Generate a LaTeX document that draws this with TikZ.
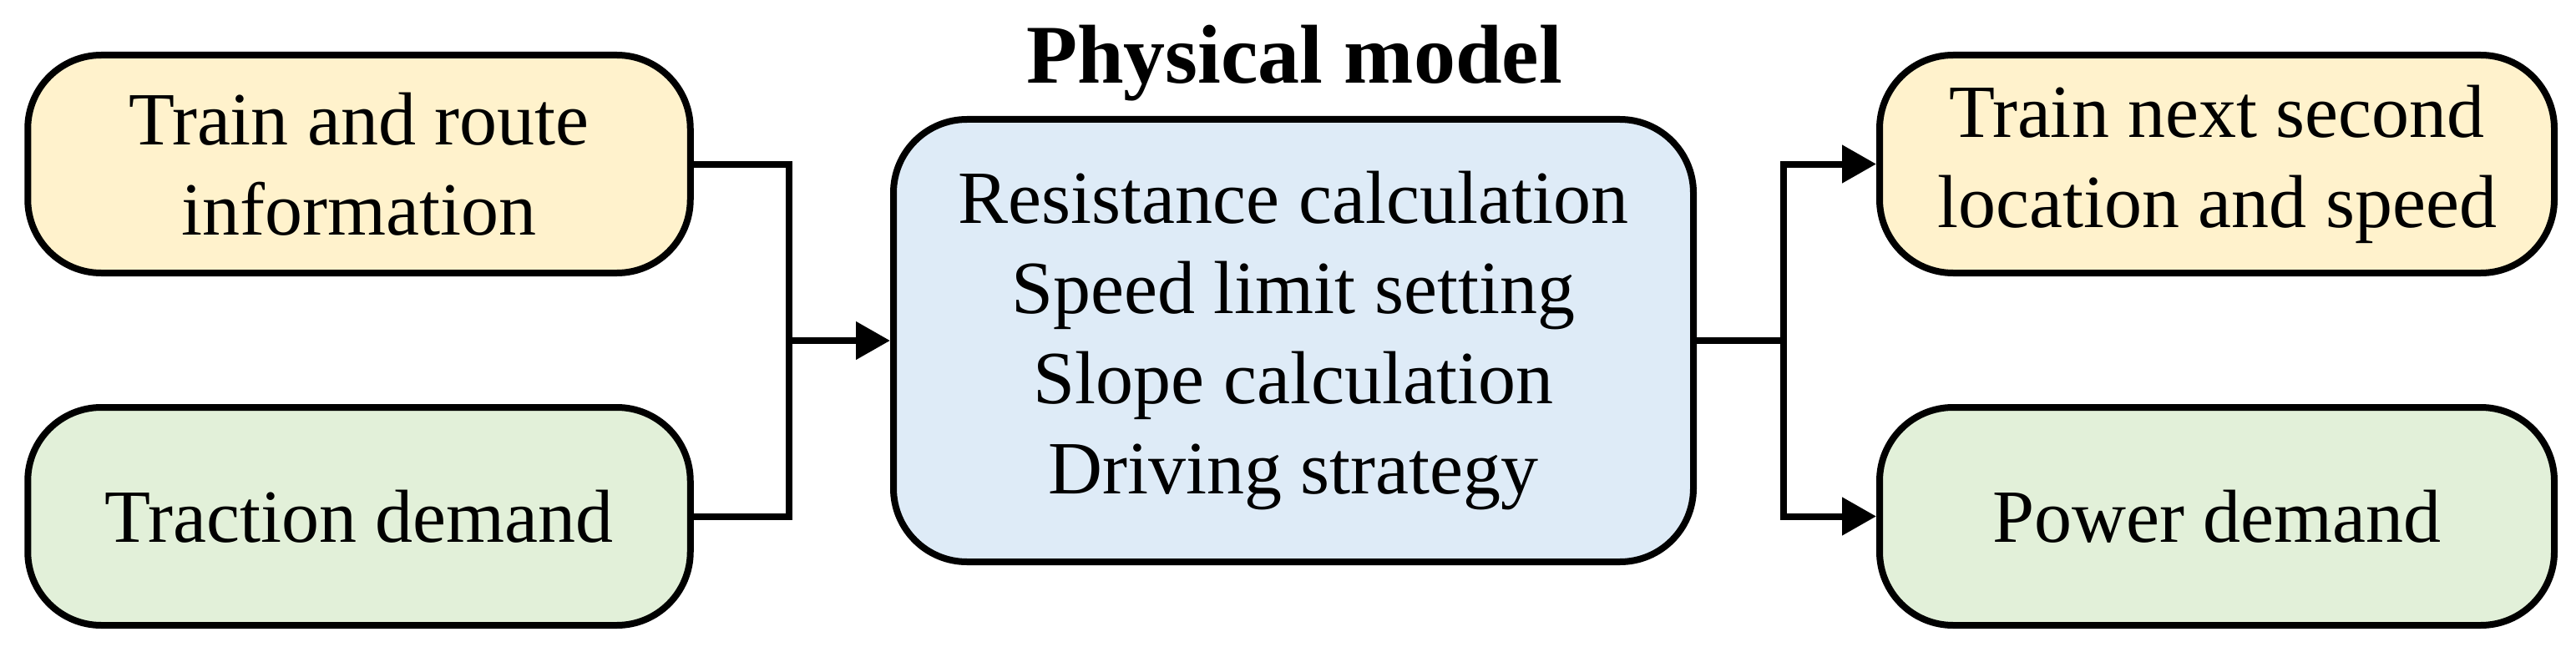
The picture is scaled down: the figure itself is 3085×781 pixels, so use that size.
\documentclass[tikz,border=0pt]{standalone}
\usepackage{fontspec}
\setmainfont{Liberation Serif}
\usetikzlibrary{arrows.meta}
\definecolor{boxyellow}{HTML}{FFF2CC}
\definecolor{boxgreen}{HTML}{E2F0D9}
\definecolor{boxblue}{HTML}{DEEBF7}
\tikzset{
  box/.style={draw=black, line width=4pt, rounded corners=44pt, align=center,
    inner sep=0pt, font=\fontsize{45}{54}\selectfont},
  sidebox/.style={box, minimum height=130.5pt},
  conn/.style={draw=black, line width=4pt},
  arr/.style={conn, -{Triangle[length=20.5pt,width=22pt]}},
}
\begin{document}
\begin{tikzpicture}[x=0.5pt, y=-0.5pt]
\useasboundingbox (0,0) rectangle (3085,781);
% title
\node[anchor=base, font=\fontsize{50}{60}\selectfont\bfseries] (title) at (1550,100) {Physical model};
% boxes
\node[sidebox, fill=boxyellow, minimum width=396.75pt] (tl) at (430,196.5) {Train and route\\information};
\node[sidebox, fill=boxgreen, minimum width=396.75pt] (bl) at (430,618.5) {Traction demand};
\node[box, fill=boxblue, minimum width=479pt, minimum height=265pt] (pm) at (1549,408)
  {Resistance calculation\\Speed limit setting\\Slope calculation\\Driving strategy};
\node[sidebox, fill=boxyellow, minimum width=404pt] (tr) at (2655,196.5) {Train next second\\location and speed};
\node[sidebox, fill=boxgreen, minimum width=404pt] (br) at (2655,618.5) {Power demand};
% connectors
\coordinate (jl) at (945,408);
\coordinate (jr) at (2136,408);
\draw[conn] (tl.east) -| (jl) |- (bl.east);
\draw[arr] (jl) -- (pm.west);
\draw[conn] (pm.east) -- (jr);
\draw[arr] (jr) |- (tr.west);
\draw[arr] (jr) |- (br.west);
\end{tikzpicture}
\end{document}
